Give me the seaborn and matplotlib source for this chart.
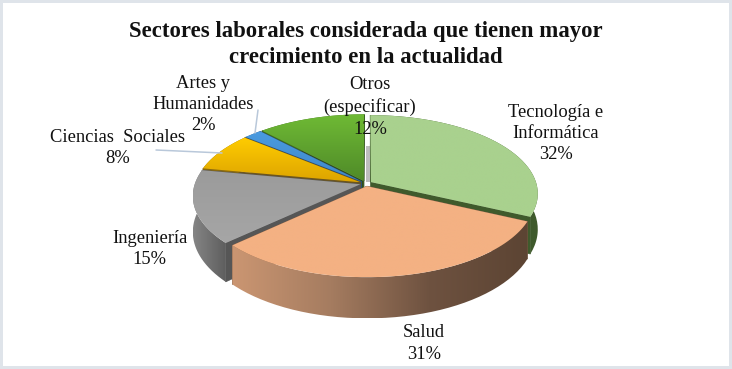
import seaborn as sns
import matplotlib.pyplot as plt
import numpy as np
from matplotlib.path import Path
from matplotlib.patches import PathPatch, Rectangle

# datos
labels = ["Tecnología e\nInformática", "Salud", "Ingeniería", "Ciencias  Sociales", "Artes y\nHumanidades", "Otros\n(especificar)"]
values = [32, 31, 15, 8, 2, 12]
title = "Sectores laborales considerada que tienen mayor\ncrecimiento en la actualidad"

# colores de cada sector (arriba y abajo del degradado de la cara superior)
top_colors = [("#A9D18E", "#A9D18E"), ("#F4B183", "#F4B183"), ("#9B9B9B", "#A6A6A6"),
              ("#FFCC00", "#DDA400"), ("#4A9BE0", "#3F87C8"), ("#6FBA35", "#4F8A28")]
wall_colors = [["#3F5A2C", "#3F5A2C"], ["#CB9672", "#A57C60", "#6E5240", "#5C4433"], ["#858585", "#5E5E5E"],
               ["#8A6A10", "#8A6A10"], ["#2C5D8C", "#2C5D8C"], ["#3F6A20", "#3F6A20"]]
cut_colors = ["#3F5A2C", "#7A5B45", "#565656", "#6B5520", "#2C4F75", "#2F4F1A"]
draw_order = [5, 4, 3, 0, 2, 1]

# geometria en pixeles de la perspectiva
CX, CY, RX, RY, DEPTH, K = 366, 183.5, 165.5, 77, 35, 0.1447
explode = [0.035] * 6
label_pos = [(555.5, 133.5), (424, 343.5), (149.5, 249), (118, 148), (203, 104.5), (370, 107)]


def project(x, y, z=0.0):
    w = 1 + K * np.asarray(y)
    return CX + RX * np.asarray(x) / w, CY + (-RY * np.asarray(y) + DEPTH * z) / w


def poly(ax, xs, ys, order):
    return PathPatch(Path(np.column_stack([xs, ys])), transform=ax.transData, zorder=order)


def gradient(ax, p, stops, horizontal, order):
    # degradado recortado a la forma
    ax.add_patch(p)
    p.set_facecolor("none")
    p.set_edgecolor("none")
    cmap = sns.blend_palette(stops, as_cmap=True)
    ramp = np.linspace(0, 1, 256)
    ramp = ramp.reshape(1, -1) if horizontal else ramp.reshape(-1, 1)
    v = p.get_path().vertices
    ext = (v[:, 0].min(), v[:, 0].max(), v[:, 1].max(), v[:, 1].min())
    im = ax.imshow(ramp, cmap=cmap, extent=ext, aspect="auto", origin="upper", zorder=order, interpolation="bilinear")
    im.set_clip_path(p)


sns.set_theme(style="white")
plt.rcParams["font.family"] = ["Liberation Serif", "DejaVu Serif"]

fig = plt.figure(figsize=(7.32, 3.69), dpi=100, facecolor="white")
fig.patch.set_edgecolor("#DFE4EA")
fig.patch.set_linewidth(2.9)
ax = fig.add_axes([0, 0, 1, 1])

wedges, _ = ax.pie(values, startangle=90, counterclock=False, explode=explode, radius=1)

order = 1
for i in draw_order:
    w = wedges[i]
    w.set_visible(False)
    cx, cy = w.center
    t = np.radians(np.linspace(w.theta1, w.theta2, 80))
    rim_x, rim_y = cx + np.cos(t), cy + np.sin(t)

    # paredes de los cortes
    for ex, ey in ((rim_x[0], rim_y[0]), (rim_x[-1], rim_y[-1])):
        px, py = project(np.array([cx, ex, ex, cx]), np.array([cy, ey, ey, cy]))
        _, pz = project(np.array([cx, ex, ex, cx]), np.array([cy, ey, ey, cy]), 1.0)
        ys = np.array([py[0], py[1], pz[2], pz[3]])
        p = poly(ax, px, ys, order)
        p.set_facecolor(cut_colors[i])
        p.set_edgecolor(cut_colors[i])
        p.set_linewidth(0.5)
        ax.add_patch(p)
    order += 1

    # pared exterior
    tx, ty = project(rim_x, rim_y)
    bx, by = project(rim_x, rim_y, 1.0)
    p = poly(ax, np.r_[tx, bx[::-1]], np.r_[ty, by[::-1]], order)
    gradient(ax, p, wall_colors[i], True, order)
    order += 1

    # cara superior
    ax_x, ax_y = project(cx, cy)
    p = poly(ax, np.r_[ax_x, tx], np.r_[ax_y, ty], order)
    gradient(ax, p, top_colors[i], False, order)
    order += 1

# hueco entre Otros y Tecnologia
ax.add_patch(Rectangle((366, 146), 3.5, 36, fc="#BDBDBD", ec="none", zorder=2))

# lineas guia
ax.plot([258, 255], [110, 133], color="#B9C8DA", lw=1.1, zorder=order)
ax.plot([156, 222], [150, 153], color="#B9C8DA", lw=1.1, zorder=order)

for lab, val, (lx, ly) in zip(labels, values, label_pos):
    ax.text(lx, ly, f"{lab}\n{val}%", ha="center", va="center", fontsize=13.3, color="#111111",
            linespacing=1.34, zorder=order + 1)

ax.text(366, 44.5, title, ha="center", va="center", fontsize=16.4, fontweight="bold", color="#111111",
        linespacing=1.29, zorder=order + 1)

ax.set_aspect("auto")
ax.set_xlim(0, 732)
ax.set_ylim(369, 0)
ax.axis("off")

fig.savefig("out.png", dpi=100, facecolor=fig.get_facecolor(), edgecolor=fig.get_edgecolor())
